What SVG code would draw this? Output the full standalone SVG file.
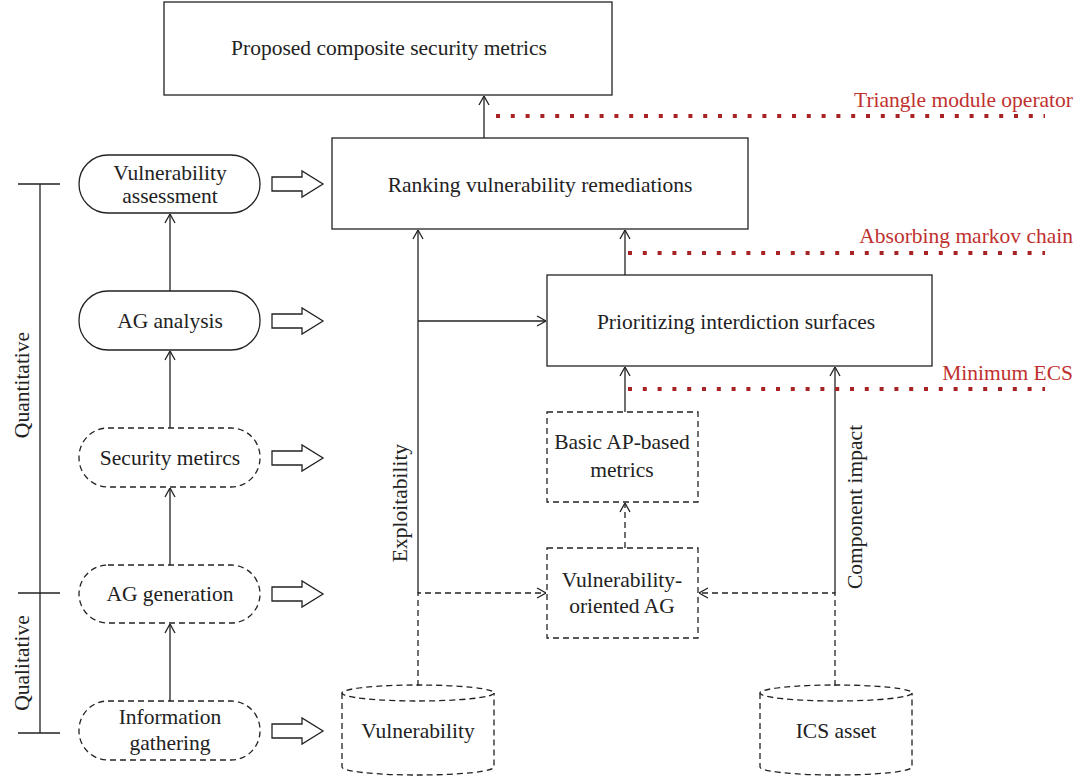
<svg xmlns="http://www.w3.org/2000/svg" width="1081" height="778" viewBox="0 0 1081 778">
<defs>
<style>
text{font-family:"Liberation Serif","DejaVu Serif",serif;font-size:21.5px;fill:#222;text-anchor:middle}
.red{fill:#c0302e;text-anchor:end;font-size:21.5px}
.box{fill:#fff;stroke:#222;stroke-width:1.3}
.dash{stroke-dasharray:6 4}
.ln{fill:none;stroke:#222;stroke-width:1.3}
.dot{fill:none;stroke:#a82424;stroke-width:4;stroke-dasharray:4 10.8}
.blk{fill:#fff;stroke:#222;stroke-width:1.3}
</style>
<marker id="arr" viewBox="0 0 10 12" refX="10" refY="6" markerWidth="10" markerHeight="12" orient="auto" markerUnits="userSpaceOnUse">
<path d="M1,1 L10,6 L1,11" fill="none" stroke="#222" stroke-width="1.3" stroke-dasharray="none"/>
</marker>
</defs>
<rect width="1081" height="778" fill="#fff"/>

<g id="connectors">
<path class="ln" d="M484,138 V96" marker-end="url(#arr)"/>
<path class="ln" d="M625,275 V230" marker-end="url(#arr)"/>
<path class="ln" d="M418,593 V230" marker-end="url(#arr)"/>
<path class="ln" d="M418,321 H546" marker-end="url(#arr)"/>
<path class="ln dash" d="M418,686 V593 H546" marker-end="url(#arr)"/>
<path class="ln" d="M625,412 V367" marker-end="url(#arr)"/>
<path class="ln dash" d="M625,548 V503" marker-end="url(#arr)"/>
<path class="ln" d="M835,593 V367" marker-end="url(#arr)"/>
<path class="ln dash" d="M835,686 V593 H699" marker-end="url(#arr)"/>
<path class="ln" d="M170,291 V214" marker-end="url(#arr)"/>
<path class="ln" d="M170,428 V351" marker-end="url(#arr)"/>
<path class="ln" d="M170,565 V488" marker-end="url(#arr)"/>
<path class="ln" d="M170,701 V624" marker-end="url(#arr)"/>
<path class="dot" d="M496,116 H1045"/>
<path class="dot" d="M628,253 H1045"/>
<path class="dot" d="M628,389 H1045"/>
</g>

<g id="block-arrows">
<path class="blk" d="M272,177 H302 V171 L323,184 L302,197 V191 H272 Z"/>
<path class="blk" d="M272,314 H302 V308 L323,321 L302,334 V328 H272 Z"/>
<path class="blk" d="M272,451 H302 V445 L323,458 L302,471 V465 H272 Z"/>
<path class="blk" d="M272,587 H302 V581 L323,594 L302,607 V601 H272 Z"/>
<path class="blk" d="M272,724 H302 V718 L323,731 L302,744 V738 H272 Z"/>
</g>

<g id="bracket">
<path class="ln" d="M40,184 V733 M18,184 H60 M18,593 H60 M18,733 H60"/>
<text transform="translate(29,385) rotate(-90)">Quantitative</text>
<text transform="translate(29,663) rotate(-90)">Qualitative</text>
</g>

<g id="n-proposed"><rect class="box" x="164" y="2" width="448" height="93"/><text x="389" y="55">Proposed composite security metrics</text></g>
<g id="n-ranking"><rect class="box" x="332" y="138" width="416" height="91"/><text x="540" y="192">Ranking vulnerability remediations</text></g>
<g id="n-prioritizing"><rect class="box" x="547" y="275" width="385" height="91"/><text x="736" y="329">Prioritizing interdiction surfaces</text></g>
<g id="n-basic"><rect class="box dash" x="547" y="412" width="151" height="90"/><text x="622" y="449">Basic AP-based</text><text x="622" y="477">metrics</text></g>
<g id="n-voag"><rect class="box dash" x="547" y="548" width="151" height="90"/><text x="622" y="587">Vulnerability-</text><text x="622" y="613">oriented AG</text></g>

<g id="n-vulndb">
<path class="ln dash" d="M342,693 V767 A76,8 0 0 0 494,767 V693"/>
<ellipse class="ln dash" cx="418" cy="693" rx="76" ry="8"/>
<text x="418" y="738">Vulnerability</text>
</g>
<g id="n-ics">
<path class="ln dash" d="M760,693 V767 A76,8 0 0 0 912,767 V693"/>
<ellipse class="ln dash" cx="836" cy="693" rx="76" ry="8"/>
<text x="836" y="738">ICS asset</text>
</g>

<g id="n-va"><rect class="box" x="79" y="155" width="181" height="58" rx="29"/><text x="170" y="180">Vulnerability</text><text x="170" y="203">assessment</text></g>
<g id="n-aga"><rect class="box" x="79" y="291" width="181" height="59" rx="29"/><text x="170" y="328">AG analysis</text></g>
<g id="n-sm"><rect class="box dash" x="79" y="428" width="181" height="59" rx="29"/><text x="170" y="465">Security metircs</text></g>
<g id="n-agg"><rect class="box dash" x="79" y="565" width="181" height="58" rx="29"/><text x="170" y="601">AG generation</text></g>
<g id="n-ig"><rect class="box dash" x="79" y="701" width="181" height="59" rx="29"/><text x="170" y="724">Information</text><text x="170" y="750">gathering</text></g>

<g id="labels">
<text transform="translate(407,503) rotate(-90)">Exploitability</text>
<text transform="translate(862,507) rotate(-90)">Component impact</text>
<text class="red" x="1073" y="107">Triangle module operator</text>
<text class="red" x="1073" y="243">Absorbing markov chain</text>
<text class="red" x="1073" y="380">Minimum ECS</text>
</g>
</svg>
